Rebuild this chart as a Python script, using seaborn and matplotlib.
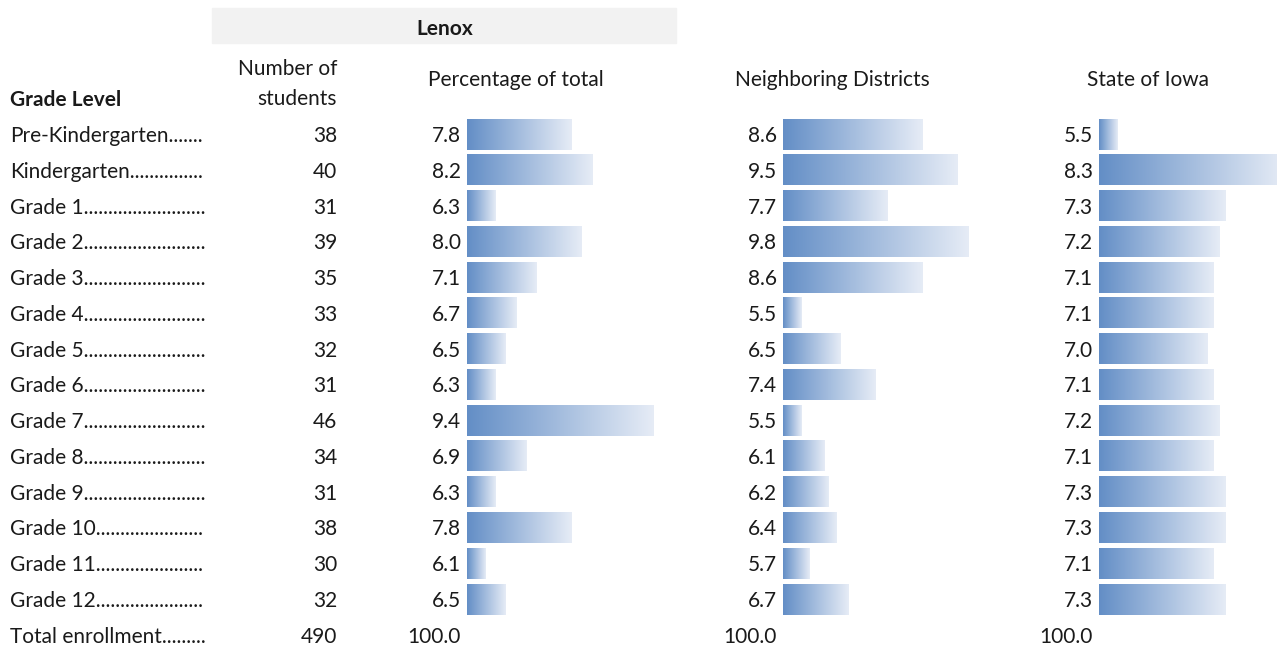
import numpy as np
import pandas as pd
import seaborn as sns
import matplotlib.pyplot as plt
from matplotlib.colors import LinearSegmentedColormap

# data
grades = ["Pre-Kindergarten", "Kindergarten", "Grade 1", "Grade 2", "Grade 3", "Grade 4",
          "Grade 5", "Grade 6", "Grade 7", "Grade 8", "Grade 9", "Grade 10", "Grade 11", "Grade 12"]
students = [38, 40, 31, 39, 35, 33, 32, 31, 46, 34, 31, 38, 30, 32]
lenox_pct = [7.8, 8.2, 6.3, 8.0, 7.1, 6.7, 6.5, 6.3, 9.4, 6.9, 6.3, 7.8, 6.1, 6.5]
neighbor_pct = [8.6, 9.5, 7.7, 9.8, 8.6, 5.5, 6.5, 7.4, 5.5, 6.1, 6.2, 6.4, 5.7, 6.7]
iowa_pct = [5.5, 8.3, 7.3, 7.2, 7.1, 7.1, 7.0, 7.1, 7.2, 7.1, 7.3, 7.3, 7.1, 7.3]
total_label = "Total enrollment"
total_students = 490
total_pct = "100.0"
col_titles = ["Percentage of total", "Neighboring Districts", "State of Iowa"]

sns.set_style("white")
plt.rcParams['font.family'] = ['Lato', 'DejaVu Sans']

W, H = 1277, 647
fig = plt.figure(figsize=(W / 100, H / 100), dpi=100)
FS = 15
TXT = "#1a1a1a"
renderer = fig.canvas.get_renderer()


def fx(x):
    return x / W


def fy(y):
    return 1 - y / H


# row layout (pixels)
row0 = 134.0
pitch = 35.77
n = len(grades)
dy = 2  # text sits a little lower than the bar centre


def row_y(i):
    return row0 + i * pitch


# header box
fig.patches.append(plt.Rectangle((fx(212), fy(43)), fx(676) - fx(212), fy(8) - fy(43),
                                 transform=fig.transFigure, color="#F2F2F2", zorder=0))
fig.text(fx(445), fy(29), "Lenox", ha="center", va="center", fontsize=FS, fontweight="bold", color=TXT)
fig.text(fx(337), fy(69), "Number of", ha="right", va="center", fontsize=FS, color=TXT)
fig.text(fx(337), fy(99), "students", ha="right", va="center", fontsize=FS, color=TXT)
fig.text(fx(10), fy(100), "Grade Level", ha="left", va="center", fontsize=FS, fontweight="bold", color=TXT)
for cx, t in zip([516, 832, 1148], col_titles):
    fig.text(fx(cx), fy(80), t, ha="center", va="center", fontsize=FS, color=TXT)

# row labels with leader dots up to the column edge
for i, g in enumerate(grades + [total_label]):
    t = fig.text(fx(10), fy(row_y(i) + dy), g, ha="left", va="center", fontsize=FS, color=TXT)
    while True:
        t.set_text(t.get_text() + ".")
        if t.get_window_extent(renderer).x1 > 206:
            t.set_text(t.get_text()[:-1])
            break

# numbers
for i, s in enumerate(students + [total_students]):
    fig.text(fx(337), fy(row_y(i) + dy), str(s), ha="right", va="center", fontsize=FS, color=TXT)

cmap = LinearSegmentedColormap.from_list("databar", ["#638EC6", "#E6ECF6"])
grad = np.linspace(0, 1, 256).reshape(1, -1)

for left, vals in zip([467, 783, 1099], [lenox_pct, neighbor_pct, iowa_pct]):
    # values
    for i, v in enumerate(vals):
        fig.text(fx(left - 6), fy(row_y(i) + dy), f"{v:.1f}", ha="right", va="center", fontsize=FS, color=TXT)
    fig.text(fx(left - 6), fy(row_y(n) + dy), total_pct, ha="right", va="center", fontsize=FS, color=TXT)

    # data bars: shortest bar gets 10% of the width, longest the full width
    vmin, vmax = min(vals), max(vals)
    lo = (vmin - 0.1 * vmax) / 0.9
    ax = fig.add_axes([fx(left), fy(row_y(n - 1) + pitch / 2), fx(186),
                       fy(row0 - pitch / 2) - fy(row_y(n - 1) + pitch / 2)])
    df = pd.DataFrame({"grade": grades, "pct": vals})
    sns.barplot(data=df, x="pct", y="grade", order=grades, orient="h", ax=ax,
                width=31 / pitch, color="#638EC6")
    for p in ax.patches:
        y0 = p.get_y()
        h = p.get_height()
        x1 = p.get_x() + p.get_width()
        ax.imshow(grad, extent=[lo, x1, y0 + h, y0], aspect="auto", cmap=cmap,
                  interpolation="bilinear", zorder=3)
        p.set_visible(False)
    ax.set_xlim(lo, vmax)
    ax.set_ylim(n - 0.5, -0.5)
    ax.axis("off")

fig.savefig("out.png", dpi=100)
